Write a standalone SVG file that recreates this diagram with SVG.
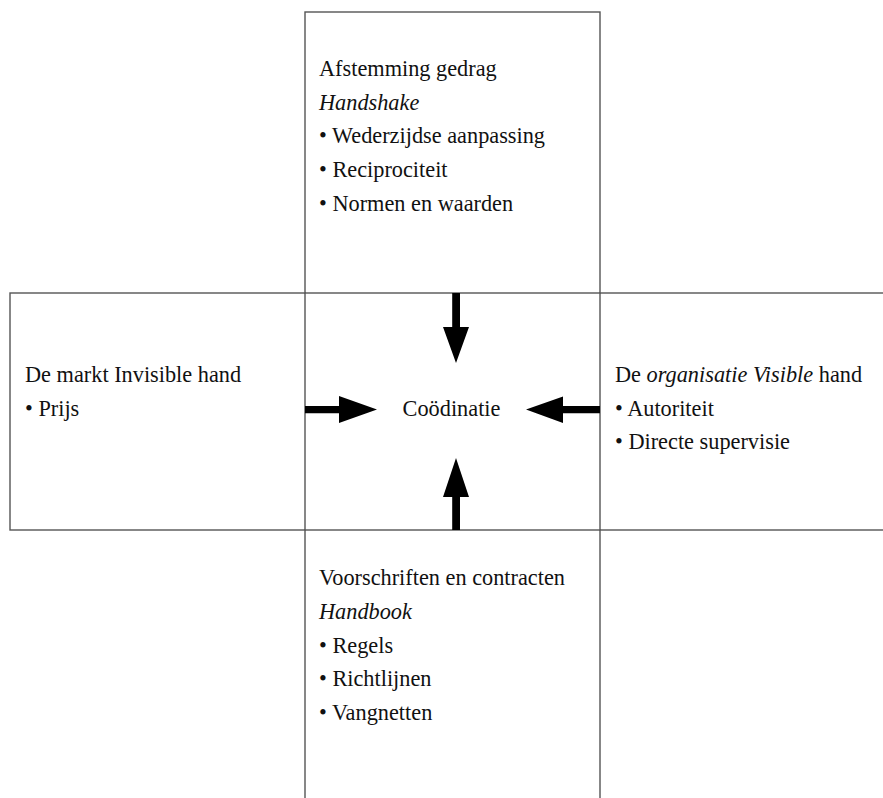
<svg xmlns="http://www.w3.org/2000/svg" width="883" height="798" viewBox="0 0 883 798">
<style>
.box{fill:none;stroke:#555;stroke-width:1.4}
text{font-family:"Liberation Serif","Times New Roman",serif;font-size:22.3px;fill:#111}
.it{font-style:italic}
.arr{fill:#000}
</style>
<rect width="883" height="798" fill="#fff"/>
<g id="node-top">
<rect class="box" x="305" y="12" width="295" height="281"/>
<text x="319" y="76">Afstemming gedrag</text>
<text x="319" y="109.5" class="it">Handshake</text>
<text x="319" y="143">• Wederzijdse aanpassing</text>
<text x="319" y="177">• Reciprociteit</text>
<text x="319" y="210.5">• Normen en waarden</text>
</g>
<g id="node-left">
<rect class="box" x="10" y="293" width="295" height="237"/>
<text x="25" y="382">De markt Invisible hand</text>
<text x="25" y="415.5">• Prijs</text>
</g>
<g id="node-right">
<rect class="box" x="600" y="293" width="300" height="237"/>
<text x="615" y="382">De <tspan class="it">organisatie Visible</tspan> hand</text>
<text x="615" y="415.5">• Autoriteit</text>
<text x="615" y="449">• Directe supervisie</text>
</g>
<g id="node-bottom">
<rect class="box" x="305" y="530" width="295" height="290"/>
<text x="319" y="585">Voorschriften en contracten</text>
<text x="319" y="619" class="it">Handbook</text>
<text x="319" y="652.5">• Regels</text>
<text x="319" y="686">• Richtlijnen</text>
<text x="319" y="720">• Vangnetten</text>
</g>
<g id="node-center">
<text x="451.5" y="415.5" text-anchor="middle">Coödinatie</text>
</g>
<g id="connectors">
<polygon class="arr" points="452.2,293 460,293 460,327 469,327 456,363 443,327 452.2,327"/>
<polygon class="arr" points="452.2,530 460,530 460,497 469,497 456,458 443,497 452.2,497"/>
<polygon class="arr" points="305,406 339,406 339,396 377,409.6 339,423 339,413.3 305,413.3"/>
<polygon class="arr" points="600,406 563,406 563,396.5 526,409.6 563,423 563,413.3 600,413.3"/>
</g>
</svg>
